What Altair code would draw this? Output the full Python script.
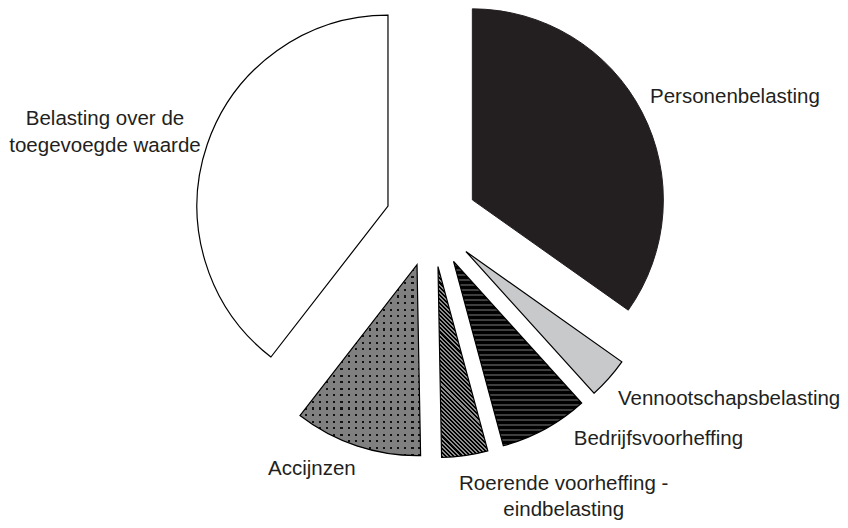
import math
import altair as alt
import pandas as pd

# ---------------- data ----------------
categories = [
    "Personenbelasting",
    "Vennootschapsbelasting",
    "Bedrijfsvoorheffing",
    "Roerende voorheffing - eindbelasting",
    "Accijnzen",
    "Belasting over de toegevoegde waarde",
]
labels = [
    "Personenbelasting",
    "Vennootschapsbelasting",
    "Bedrijfsvoorheffing",
    "Roerende voorheffing -\neindbelasting",
    "Accijnzen",
    "Belasting over de\ntoegevoegde waarde",
]
shares = [34.8, 3.5, 7.5, 3.9, 10.8, 39.5]

# ---------------- layout / style ----------------
W, H = 832, 512
CX, CY = 423.5, 213.0      # pie centre inside the view
R = 191                    # outer radius
EXPLODE = 46               # explosion distance of every slice
LABEL_R = 250              # label anchor distance from the centre
INK = "#231f20"

total = sum(shares)
rows = []
acc = 0.0
for cat, lab, v in zip(categories, labels, shares):
    a0 = acc / total * 2 * math.pi
    acc += v
    a1 = acc / total * 2 * math.pi
    m = (a0 + a1) / 2
    rows.append(dict(cat=cat, label=lab, share=v, start=a0, end=a1,
                     ox=math.sin(m), oy=-math.cos(m),
                     lx=math.sin(m) * LABEL_R / EXPLODE,
                     ly=-math.cos(m) * LABEL_R / EXPLODE))
df = pd.DataFrame(rows)


def slice_size(i):
    """pixel bounding box (w, h) of exploded slice i (for gradient patterns)"""
    r = rows[i]
    ox, oy = r["ox"] * EXPLODE, r["oy"] * EXPLODE
    pts = [(ox, oy)]
    angs = [r["start"], r["end"]] + [k * math.pi / 2 for k in range(5)
                                     if r["start"] < k * math.pi / 2 < r["end"]]
    for a in angs:
        pts.append((ox + R * math.sin(a), oy - R * math.cos(a)))
    xs_ = [p[0] for p in pts]
    ys_ = [p[1] for p in pts]
    return max(xs_) - min(xs_), max(ys_) - min(ys_)


def stripe_stops(c1, c2, n, frac):
    stops = []
    for k in range(n):
        a = round(k / n, 5)
        b = round((k + frac) / n, 5)
        c = round((k + 1) / n, 5)
        stops += [{"offset": a, "color": c1}, {"offset": b, "color": c1},
                  {"offset": b, "color": c2}, {"offset": c, "color": c2}]
    return stops


# horizontal stripes (Bedrijfsvoorheffing)
bw, bh = slice_size(2)
bedrijf_fill = {"gradient": "linear", "x1": 0, "y1": 0, "x2": 0, "y2": 1,
                "stops": stripe_stops("#000000", "#3e3e3e", round(bh / 5.0), 0.6)}

# diagonal "\" stripes (Roerende voorheffing)
rw, rh = slice_size(3)
S = (rw ** 2 + rh ** 2) / (rw + rh)
span = (rw + rh) / math.sqrt(2)
roer_fill = {"gradient": "linear", "x1": 0, "y1": 1,
             "x2": rw / S, "y2": 1 - rh / S,
             "stops": stripe_stops("#000000", "#8c8c8c", round(span / 2.9), 0.5)}

# dotted grey (Accijnzen): black rows under grey with transparent columns
aw, ah = slice_size(4)
acc_rows = {"gradient": "linear", "x1": 0, "y1": 0, "x2": 0, "y2": 1,
            "stops": stripe_stops("#808080", "#111111", round(ah / 6.5), 0.68)}
acc_cols = {"gradient": "linear", "x1": 0, "y1": 0, "x2": 1, "y2": 0,
            "stops": stripe_stops("#808080", "rgba(128,128,128,0)", round(aw / 7.0), 0.7)}

slice_styles = {
    "Personenbelasting": [dict(fill=INK, stroke=INK, strokeWidth=1)],
    "Vennootschapsbelasting": [dict(fill="#c8c9cb", stroke="#000000", strokeWidth=1.2)],
    "Bedrijfsvoorheffing": [dict(fill=bedrijf_fill, stroke="#000000", strokeWidth=1.2)],
    "Roerende voorheffing - eindbelasting": [dict(fill=roer_fill, stroke="#000000", strokeWidth=1.2)],
    "Accijnzen": [dict(fill=acc_rows, strokeWidth=0),
                  dict(fill=acc_cols, stroke="#000000", strokeWidth=1.2)],
    "Belasting over de toegevoegde waarde": [dict(fill="#ffffff", stroke="#000000", strokeWidth=1.2)],
}

label_styles = {
    "Personenbelasting": dict(align="left", dx=-3.5, dy=-3, lineHeight=27),
    "Vennootschapsbelasting": dict(align="left", dx=-0.5, dy=18, lineHeight=27),
    "Bedrijfsvoorheffing": dict(align="left", dx=22.5, dy=4.5, lineHeight=27),
    "Roerende voorheffing - eindbelasting": dict(align="center", dx=97, dy=21.5, lineHeight=26),
    "Accijnzen": dict(align="right", dx=3, dy=16.5, lineHeight=27),
    "Belasting over de toegevoegde waarde": dict(align="center", dx=-90, dy=-15, lineHeight=27),
}

xs = alt.Scale(domain=[-1, 1], range=[CX - EXPLODE, CX + EXPLODE])
ys = alt.Scale(domain=[-1, 1], range=[CY - EXPLODE, CY + EXPLODE])

base = alt.Chart(df)
layers = []
for cat in categories:
    for st in slice_styles[cat]:
        layers.append(
            base.transform_filter(alt.datum.cat == cat)
            .mark_arc(radius=R, **st)
            .encode(
                theta=alt.Theta("start:Q", scale=None),
                theta2=alt.Theta2("end:Q"),
                x=alt.X("ox:Q", scale=xs, axis=None),
                y=alt.Y("oy:Q", scale=ys, axis=None),
            )
        )

for cat in categories:
    ls = label_styles[cat]
    layers.append(
        base.transform_filter(alt.datum.cat == cat)
        .mark_text(font="Arial", fontSize=20.5, color=INK, baseline="alphabetic",
                   lineBreak="\n", **ls)
        .encode(
            x=alt.X("lx:Q", scale=xs, axis=None),
            y=alt.Y("ly:Q", scale=ys, axis=None),
            text="label:N",
        )
    )

chart = (
    alt.layer(*layers)
    .properties(width=W, height=H, padding=0, autosize="none", background="white")
    .configure_view(stroke=None)
)

chart.save("out.html", embed_options={"renderer": "svg", "actions": False})
